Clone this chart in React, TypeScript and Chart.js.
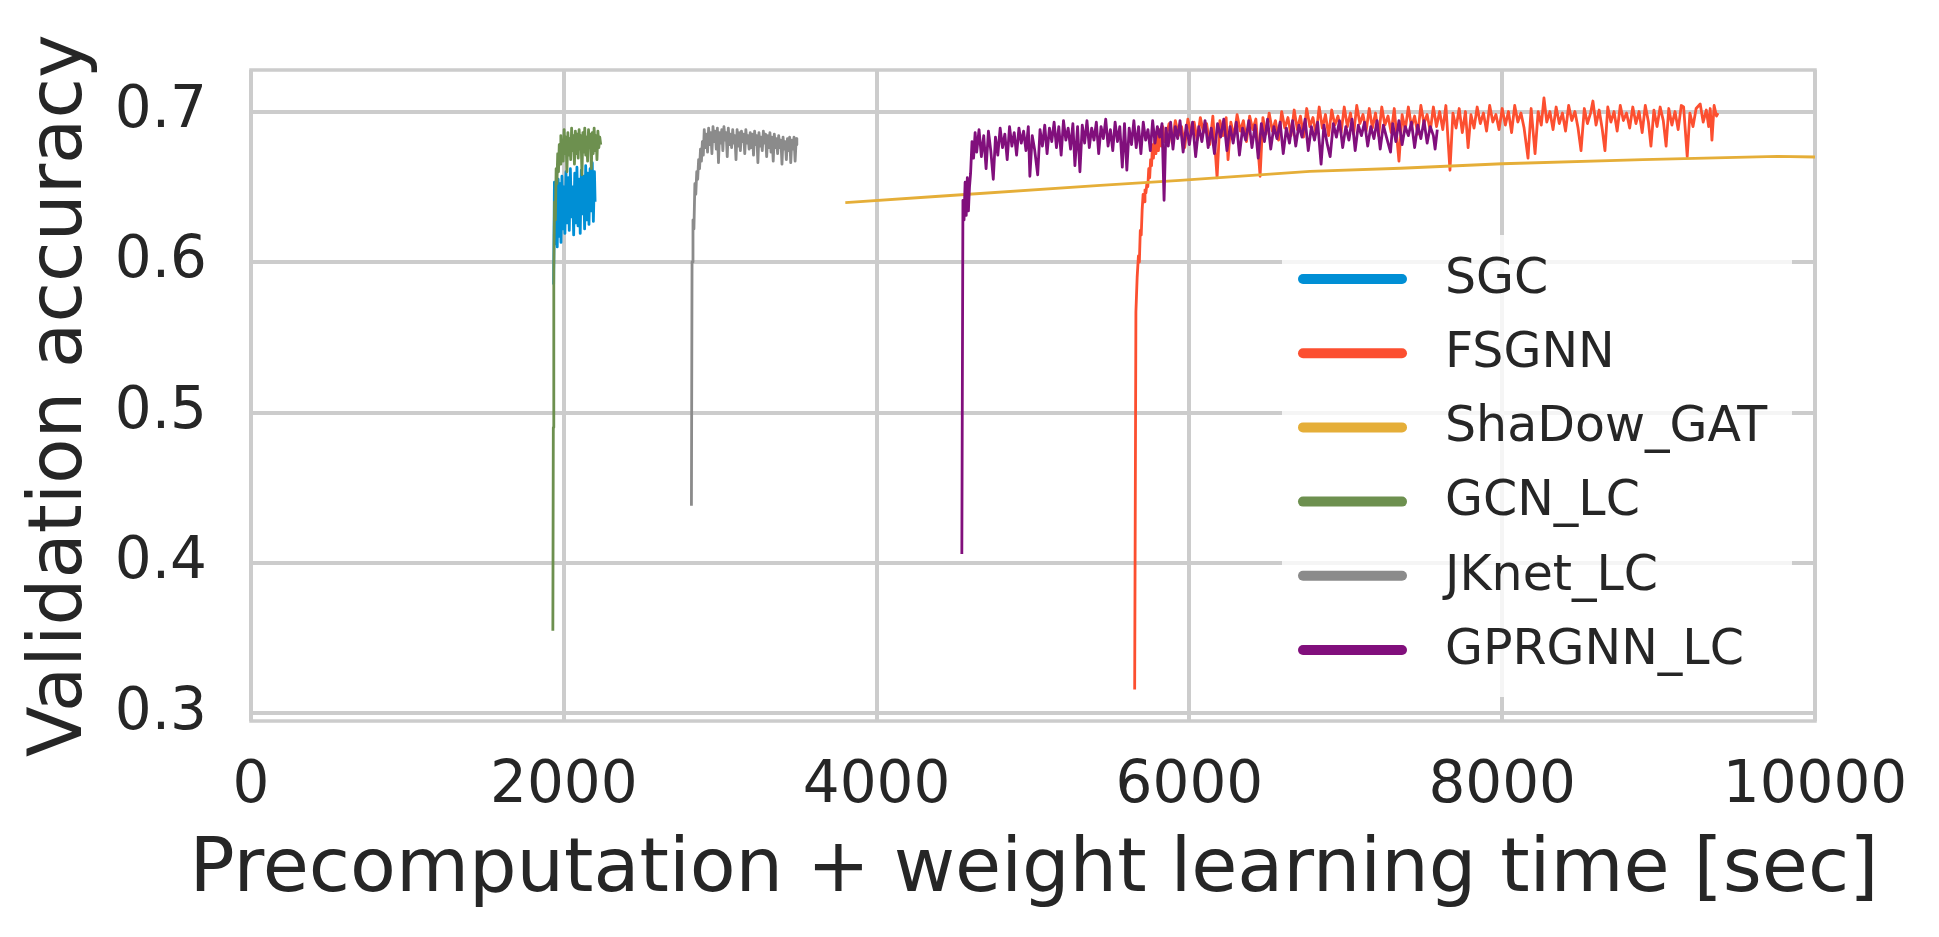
import { useEffect, useRef } from 'react'
import { Chart, registerables } from 'chart.js'

Chart.register(...registerables)

const FONT = "'DejaVu Sans', sans-serif"
const TEXT = '#262626'
const GRID = '#cccccc'

const seriesNames = ['SGC', 'FSGNN', 'ShaDow_GAT', 'GCN_LC', 'JKnet_LC', 'GPRGNN_LC']
const seriesColors = ['#008fd5', '#fc4f30', '#e5ae38', '#6d904f', '#8b8b8b', '#810f7c']

const xTicks = [0, 2000, 4000, 6000, 8000, 10000]
const yTicks = [0.3, 0.4, 0.5, 0.6, 0.7]
const xTitle = 'Precomputation + weight learning time [sec]'
const yTitle = 'Validation accuracy'

// [time (sec), validation accuracy]
const sgc: [number, number][] = [
  [1935, 0.585], [1940, 0.653], [1946, 0.612], [1952, 0.648], [1958, 0.610], [1964, 0.655],
  [1970, 0.617], [1976, 0.652], [1982, 0.613], [1988, 0.657], [1994, 0.622], [2000, 0.650],
  [2007, 0.619], [2014, 0.660], [2021, 0.626], [2028, 0.656], [2035, 0.621], [2042, 0.662],
  [2049, 0.630], [2056, 0.650], [2063, 0.618], [2070, 0.659], [2077, 0.626], [2084, 0.663],
  [2091, 0.624], [2098, 0.655], [2105, 0.619], [2112, 0.661], [2119, 0.632], [2126, 0.657],
  [2133, 0.622], [2140, 0.664], [2147, 0.628], [2154, 0.659], [2161, 0.625], [2168, 0.662],
  [2175, 0.634], [2182, 0.666], [2189, 0.627], [2196, 0.660], [2200, 0.640],
]

const fsgnn: [number, number][] = [
  [5650, 0.316], [5658, 0.567], [5666, 0.590], [5674, 0.604], [5680, 0.600], [5686, 0.621],
  [5692, 0.618], [5698, 0.635], [5704, 0.645], [5710, 0.640], [5716, 0.648], [5722, 0.646],
  [5728, 0.652], [5734, 0.650], [5740, 0.662], [5746, 0.656], [5752, 0.668], [5758, 0.664],
  [5764, 0.678], [5770, 0.669], [5778, 0.681], [5786, 0.672], [5794, 0.685], [5802, 0.674],
  [5810, 0.688], [5820, 0.677], [5830, 0.690], [5840, 0.680], [5850, 0.683], [5870, 0.692],
  [5890, 0.679], [5910, 0.694], [5930, 0.684], [5950, 0.690], [5970, 0.676], [5990, 0.695],
  [6010, 0.685], [6030, 0.693], [6050, 0.681], [6070, 0.696], [6090, 0.686], [6110, 0.692],
  [6130, 0.678], [6150, 0.697], [6177, 0.656], [6195, 0.694], [6215, 0.684], [6235, 0.696],
  [6247, 0.668], [6265, 0.693], [6285, 0.683], [6305, 0.698], [6325, 0.687], [6345, 0.694],
  [6365, 0.680], [6385, 0.697], [6405, 0.688], [6425, 0.695], [6452, 0.657], [6470, 0.696],
  [6490, 0.685], [6510, 0.699], [6530, 0.687], [6550, 0.694], [6570, 0.681], [6590, 0.700],
  [6610, 0.689], [6630, 0.696], [6650, 0.684], [6670, 0.701], [6690, 0.688], [6710, 0.697],
  [6730, 0.683], [6750, 0.702], [6770, 0.690], [6790, 0.696], [6810, 0.685], [6830, 0.703],
  [6850, 0.689], [6870, 0.698], [6890, 0.684], [6910, 0.701], [6930, 0.691], [6950, 0.697],
  [6970, 0.686], [6990, 0.703], [7010, 0.690], [7030, 0.699], [7050, 0.685], [7070, 0.704],
  [7090, 0.692], [7110, 0.698], [7130, 0.687], [7150, 0.702], [7170, 0.689], [7190, 0.699],
  [7210, 0.684], [7230, 0.703], [7250, 0.691], [7270, 0.697], [7290, 0.686], [7310, 0.702],
  [7340, 0.667], [7360, 0.698], [7380, 0.688], [7400, 0.703], [7420, 0.690], [7440, 0.697],
  [7460, 0.685], [7480, 0.704], [7500, 0.692], [7520, 0.698], [7540, 0.687], [7560, 0.703],
  [7580, 0.690], [7600, 0.700], [7620, 0.688], [7640, 0.704], [7666, 0.661], [7685, 0.699],
  [7705, 0.689], [7725, 0.702], [7745, 0.686], [7765, 0.700], [7782, 0.676], [7800, 0.698],
  [7820, 0.689], [7840, 0.703], [7860, 0.692], [7880, 0.699], [7900, 0.687], [7920, 0.704],
  [7940, 0.693], [7960, 0.698], [7980, 0.688], [8000, 0.702], [8020, 0.691], [8040, 0.700],
  [8060, 0.686], [8080, 0.704], [8100, 0.693], [8120, 0.699], [8140, 0.689], [8165, 0.669],
  [8185, 0.702], [8210, 0.672], [8230, 0.700], [8250, 0.691], [8267, 0.709], [8285, 0.693],
  [8305, 0.700], [8325, 0.688], [8345, 0.703], [8365, 0.692], [8385, 0.699], [8405, 0.687],
  [8425, 0.704], [8445, 0.694], [8465, 0.700], [8485, 0.689], [8504, 0.674], [8525, 0.702],
  [8545, 0.692], [8565, 0.699], [8580, 0.707], [8600, 0.691], [8620, 0.701], [8640, 0.688],
  [8657, 0.674], [8675, 0.703], [8695, 0.693], [8715, 0.700], [8735, 0.687], [8755, 0.704],
  [8775, 0.694], [8795, 0.699], [8815, 0.689], [8835, 0.703], [8855, 0.692], [8875, 0.700],
  [8895, 0.686], [8915, 0.704], [8935, 0.693], [8951, 0.677], [8970, 0.701], [8990, 0.690],
  [9010, 0.703], [9030, 0.694], [9048, 0.677], [9065, 0.702], [9085, 0.691], [9105, 0.700],
  [9125, 0.688], [9145, 0.704], [9160, 0.703], [9183, 0.670], [9200, 0.699], [9220, 0.690],
  [9240, 0.702], [9266, 0.705], [9285, 0.693], [9305, 0.701], [9320, 0.690], [9330, 0.702],
  [9341, 0.681], [9355, 0.704], [9370, 0.697], [9380, 0.699],
]

const shadowGat: [number, number][] = [
  [3800, 0.6395], [4400, 0.6437], [5430, 0.6510], [5940, 0.6543], [6770, 0.6603],
  [7350, 0.6623], [8000, 0.6653], [8900, 0.6680], [9760, 0.6702], [10000, 0.6698],
]

const gcnLc: [number, number][] = [
  [1930, 0.355], [1933, 0.490], [1936, 0.595], [1941, 0.640], [1946, 0.628], [1951, 0.662],
  [1956, 0.652], [1961, 0.672], [1966, 0.660], [1971, 0.678], [1976, 0.665], [1981, 0.684],
  [1986, 0.670], [1991, 0.681], [1996, 0.667], [2002, 0.688], [2008, 0.672], [2014, 0.683],
  [2020, 0.660], [2026, 0.686], [2032, 0.671], [2038, 0.682], [2044, 0.668], [2050, 0.689],
  [2056, 0.674], [2062, 0.684], [2068, 0.665], [2074, 0.687], [2080, 0.672], [2086, 0.685],
  [2092, 0.669], [2098, 0.688], [2104, 0.675], [2110, 0.684], [2116, 0.658], [2122, 0.686],
  [2128, 0.673], [2134, 0.689], [2140, 0.671], [2146, 0.683], [2152, 0.667], [2158, 0.688],
  [2164, 0.676], [2170, 0.685], [2176, 0.662], [2182, 0.686], [2188, 0.672], [2194, 0.689],
  [2200, 0.674], [2206, 0.684], [2212, 0.668], [2218, 0.687], [2224, 0.676], [2230, 0.683],
  [2236, 0.678],
]

const jknetLc: [number, number][] = [
  [2816, 0.438], [2820, 0.600], [2826, 0.628], [2832, 0.622], [2838, 0.652], [2844, 0.645],
  [2850, 0.660], [2856, 0.655], [2862, 0.668], [2868, 0.662], [2874, 0.675], [2880, 0.667],
  [2886, 0.680], [2892, 0.671], [2898, 0.688], [2905, 0.676], [2912, 0.685], [2919, 0.673],
  [2926, 0.689], [2933, 0.678], [2940, 0.686], [2947, 0.672], [2954, 0.690], [2961, 0.680],
  [2968, 0.687], [2975, 0.675], [2982, 0.689], [2989, 0.666], [2996, 0.686], [3003, 0.679],
  [3010, 0.688], [3017, 0.674], [3024, 0.690], [3031, 0.681], [3038, 0.686], [3045, 0.670],
  [3052, 0.689], [3059, 0.678], [3066, 0.685], [3073, 0.676], [3080, 0.688], [3087, 0.679],
  [3094, 0.684], [3101, 0.668], [3108, 0.688], [3115, 0.677], [3122, 0.686], [3129, 0.674],
  [3136, 0.687], [3143, 0.680], [3150, 0.685], [3157, 0.672], [3164, 0.688], [3171, 0.679],
  [3178, 0.684], [3185, 0.675], [3192, 0.686], [3199, 0.676], [3206, 0.685], [3213, 0.671],
  [3220, 0.687], [3227, 0.678], [3234, 0.684], [3241, 0.666], [3248, 0.686], [3255, 0.677],
  [3262, 0.683], [3269, 0.674], [3276, 0.687], [3283, 0.679], [3290, 0.685], [3297, 0.670],
  [3304, 0.684], [3311, 0.676], [3318, 0.686], [3325, 0.673], [3332, 0.683], [3339, 0.667],
  [3346, 0.685], [3353, 0.676], [3360, 0.682], [3367, 0.672], [3374, 0.684], [3381, 0.676],
  [3388, 0.681], [3395, 0.665], [3402, 0.683], [3409, 0.675], [3416, 0.680], [3423, 0.668],
  [3430, 0.682], [3437, 0.674], [3444, 0.683], [3451, 0.666], [3458, 0.681], [3465, 0.675],
  [3472, 0.683], [3479, 0.667], [3486, 0.682], [3490, 0.678],
]

const gprgnnLc: [number, number][] = [
  [4545, 0.406], [4552, 0.641], [4559, 0.628], [4566, 0.653], [4573, 0.631], [4580, 0.656],
  [4587, 0.634], [4594, 0.650], [4601, 0.659], [4610, 0.680], [4620, 0.669], [4630, 0.686],
  [4640, 0.673], [4655, 0.688], [4670, 0.670], [4685, 0.684], [4700, 0.662], [4715, 0.687],
  [4730, 0.674], [4746, 0.655], [4760, 0.683], [4775, 0.671], [4790, 0.689], [4805, 0.676],
  [4820, 0.685], [4835, 0.668], [4850, 0.690], [4865, 0.677], [4880, 0.686], [4895, 0.671],
  [4910, 0.689], [4925, 0.679], [4940, 0.687], [4955, 0.674], [4970, 0.690], [4980, 0.657],
  [4995, 0.684], [5010, 0.675], [5030, 0.658], [5045, 0.688], [5060, 0.677], [5075, 0.691],
  [5090, 0.672], [5105, 0.689], [5120, 0.680], [5135, 0.693], [5150, 0.676], [5165, 0.690],
  [5180, 0.671], [5195, 0.694], [5210, 0.681], [5225, 0.689], [5240, 0.675], [5255, 0.692],
  [5268, 0.664], [5285, 0.690], [5300, 0.660], [5315, 0.691], [5330, 0.679], [5345, 0.694],
  [5360, 0.676], [5375, 0.689], [5390, 0.681], [5405, 0.693], [5420, 0.672], [5435, 0.690],
  [5450, 0.682], [5465, 0.695], [5480, 0.677], [5495, 0.688], [5510, 0.674], [5525, 0.693],
  [5540, 0.680], [5555, 0.690], [5571, 0.663], [5585, 0.692], [5600, 0.661], [5615, 0.689],
  [5630, 0.678], [5645, 0.694], [5660, 0.676], [5675, 0.690], [5690, 0.672], [5705, 0.693],
  [5720, 0.681], [5735, 0.688], [5750, 0.674], [5765, 0.694], [5780, 0.679], [5795, 0.690],
  [5810, 0.683], [5825, 0.692], [5838, 0.641], [5850, 0.689], [5865, 0.677], [5880, 0.693],
  [5895, 0.675], [5910, 0.690], [5925, 0.682], [5940, 0.694], [5960, 0.673], [5980, 0.691],
  [6000, 0.678], [6020, 0.693], [6040, 0.670], [6060, 0.690], [6080, 0.680], [6100, 0.694],
  [6120, 0.676], [6140, 0.689], [6160, 0.672], [6180, 0.692], [6200, 0.683], [6220, 0.695],
  [6240, 0.674], [6260, 0.690], [6280, 0.679], [6300, 0.693], [6320, 0.671], [6340, 0.689],
  [6360, 0.681], [6380, 0.694], [6400, 0.676], [6420, 0.691], [6440, 0.669], [6460, 0.692],
  [6480, 0.680], [6500, 0.695], [6520, 0.675], [6540, 0.690], [6560, 0.682], [6580, 0.693],
  [6600, 0.672], [6620, 0.689], [6640, 0.679], [6660, 0.694], [6680, 0.677], [6700, 0.691],
  [6720, 0.683], [6740, 0.695], [6760, 0.674], [6780, 0.690], [6800, 0.681], [6820, 0.693],
  [6842, 0.665], [6860, 0.691], [6880, 0.679], [6900, 0.670], [6920, 0.692], [6940, 0.683],
  [6960, 0.694], [6980, 0.676], [7000, 0.690], [7020, 0.681], [7040, 0.695], [7060, 0.674],
  [7080, 0.691], [7100, 0.684], [7120, 0.693], [7140, 0.677], [7160, 0.690], [7180, 0.682],
  [7200, 0.694], [7220, 0.675], [7240, 0.691], [7260, 0.683], [7286, 0.673], [7300, 0.692],
  [7320, 0.680], [7340, 0.694], [7360, 0.678], [7380, 0.690], [7400, 0.684], [7420, 0.693],
  [7440, 0.676], [7460, 0.691], [7480, 0.682], [7500, 0.694], [7520, 0.679], [7540, 0.690],
  [7560, 0.684], [7571, 0.675], [7585, 0.688],
]

const allSeries = [sgc, fsgnn, shadowGat, gcnLc, jknetLc, gprgnnLc]

// light grey box round the plot area (seaborn whitegrid spines)
const framePlugin = {
  id: 'frame',
  beforeDatasetsDraw(chart: Chart) {
    const { ctx, chartArea: a } = chart
    ctx.save()
    ctx.strokeStyle = GRID
    ctx.lineWidth = 3.5
    ctx.strokeRect(a.left, a.top, a.right - a.left, a.bottom - a.top)
    ctx.restore()
  },
}

// legend inside the axes, lower right
const legendPlugin = {
  id: 'innerLegend',
  afterDatasetsDraw(chart: Chart) {
    const { ctx, chartArea: a } = chart
    const w = 510
    const h = 462
    const left = a.right - 23 - w
    const top = a.bottom - 24 - h
    ctx.save()
    ctx.fillStyle = 'rgba(255,255,255,0.8)'
    ctx.fillRect(left, top, w, h)
    ctx.font = `49px ${FONT}`
    ctx.textBaseline = 'middle'
    ctx.textAlign = 'left'
    chart.data.datasets.forEach((ds, i) => {
      const y = top + 44 + i * 74.2
      ctx.strokeStyle = ds.borderColor as string
      ctx.lineWidth = 10
      ctx.lineCap = 'round'
      ctx.beginPath()
      ctx.moveTo(left + 21, y)
      ctx.lineTo(left + 120, y)
      ctx.stroke()
      ctx.fillStyle = TEXT
      ctx.fillText(ds.label as string, left + 163, y + 1)
    })
    ctx.restore()
  },
}

// x-axis label drawn here so Chart.js does not squeeze it to the axis width
const xTitlePlugin = {
  id: 'xTitle',
  afterDraw(chart: Chart) {
    const { ctx, chartArea: a } = chart
    ctx.save()
    ctx.font = `75px ${FONT}`
    ctx.fillStyle = TEXT
    ctx.textAlign = 'center'
    ctx.textBaseline = 'alphabetic'
    ctx.fillText(xTitle, (a.left + a.right) / 2 + 1, 891)
    ctx.restore()
  },
}

export default function App() {
  const canvasRef = useRef<HTMLCanvasElement>(null)

  useEffect(() => {
    if (!canvasRef.current) return
    const chart = new Chart(canvasRef.current, {
      type: 'line',
      data: {
        datasets: allSeries.map((pts, i) => ({
          label: seriesNames[i],
          data: pts.map(([x, y]) => ({ x, y })),
          borderColor: seriesColors[i],
          backgroundColor: seriesColors[i],
          borderWidth: 2.8,
          pointRadius: 0,
          tension: 0,
          borderJoinStyle: 'round',
          order: allSeries.length - 1 - i, // later series drawn on top
        })),
      },
      options: {
        responsive: false,
        animation: false,
        devicePixelRatio: 1,
        events: [],
        layout: { padding: { top: 70, right: 124, bottom: 0, left: 0 } },
        plugins: {
          legend: { display: false },
          tooltip: { enabled: false },
        },
        scales: {
          x: {
            type: 'linear',
            min: 0,
            max: 10000,
            afterBuildTicks: (s: any) => {
              s.ticks = xTicks.map((v) => ({ value: v }))
            },
            afterFit: (s: any) => {
              s.height = 216
              s.paddingLeft = 0
              s.paddingRight = 0
            },
            grid: { color: GRID, lineWidth: 4, drawTicks: false },
            border: { display: false },
            ticks: {
              padding: 31,
              color: TEXT,
              maxRotation: 0,
              font: { family: FONT, size: 58 },
              callback: (v: any) => String(v),
            },
          },
          y: {
            type: 'linear',
            min: 0.295,
            max: 0.7276,
            afterBuildTicks: (s: any) => {
              s.ticks = yTicks.map((v) => ({ value: v }))
            },
            afterFit: (s: any) => {
              s.width = 251
              s.paddingTop = 0
              s.paddingBottom = 0
            },
            grid: { color: GRID, lineWidth: 4, drawTicks: false },
            border: { display: false },
            ticks: {
              padding: 44,
              color: TEXT,
              font: { family: FONT, size: 58 },
              callback: (v: any) => Number(v).toFixed(1),
            },
            title: {
              display: true,
              text: yTitle,
              color: TEXT,
              font: { family: FONT, size: 74 },
              padding: { top: 17, bottom: 0 },
            },
          },
        },
      },
      plugins: [framePlugin, legendPlugin, xTitlePlugin],
    })
    return () => chart.destroy()
  }, [])

  return (
    <div style={{ position: 'absolute', left: 0, top: 0, width: 1939, height: 937, background: '#fff' }}>
      <canvas ref={canvasRef} width={1939} height={937} style={{ display: 'block' }} />
    </div>
  )
}
